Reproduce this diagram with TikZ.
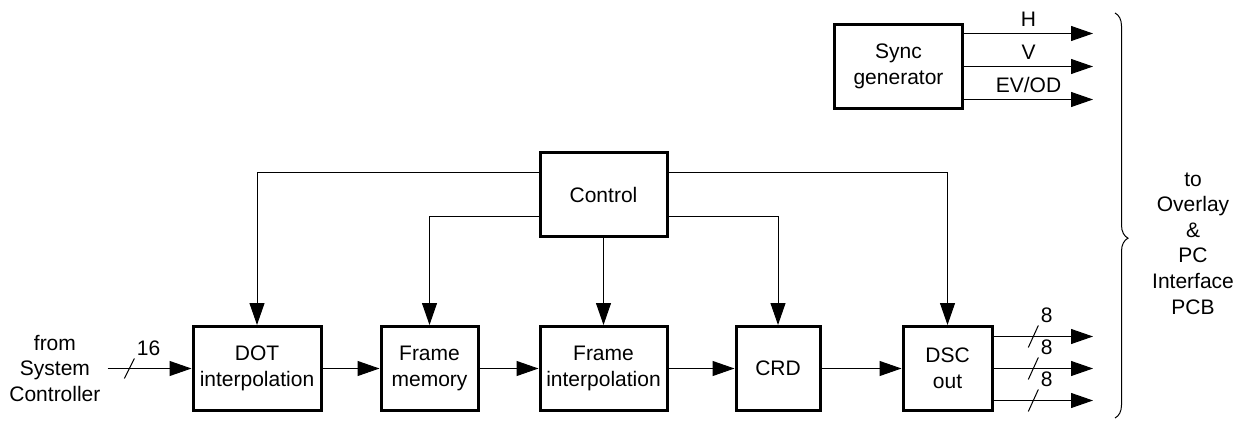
\documentclass[tikz,border=0pt]{standalone}
\usepackage{fontspec}
\setmainfont{Liberation Sans}
\usetikzlibrary{positioning, arrows.meta, decorations.pathreplacing}

\begin{document}
\begin{tikzpicture}[
    x=0.5pt, y=-0.5pt,
    every node/.style={font=\fontsize{10.5}{12.8}\selectfont, align=center},
    block/.style={rectangle, draw, line width=1.5pt, minimum height=42pt, inner sep=2pt},
    wide/.style={block, minimum width=64pt},
    arrow/.style={-{Triangle[length=11pt, width=7.5pt]}, line width=0.5pt},
    wire/.style={line width=0.5pt},
    buslabel/.style={anchor=south west, inner sep=1pt},
]
\useasboundingbox (0,0) rectangle (1240,422);

% Processing chain
\node[wide] (dot) at (257,368.5) {DOT\\interpolation};
\node[block, minimum width=48.5pt, right=28.5pt of dot] (mem) {Frame\\memory};
\node[wide, minimum width=63.5pt, right=29.5pt of mem] (interp) {Frame\\interpolation};
\node[block, minimum width=42pt, right=33pt of interp] (crd) {CRD};
\node[block, minimum width=44.5pt, right=40pt of crd] (dsc) {DSC\\out};

% Control and sync
\node[wide, minimum width=63.5pt, above=43.5pt of interp] (ctrl) {Control};
\node[wide] (sync) at (898.5,66.5) {Sync\\generator};

% Source and destination
\node[left=42pt of dot] (src) {from\\System\\Controller};
\node (dest) at (1193,243.5) {to\\Overlay\\\&\\PC\\Interface\\PCB};
\coordinate (outx) at (1093,0);

% Input bus
\draw[arrow] (src) -- (dot) coordinate[pos=0.26] (bin);
\draw[wire] (bin) ++(-2.5pt,-5pt) -- ++(5pt,10pt) node[buslabel] {16};

% Chain arrows
\draw[arrow] (dot) -- (mem);
\draw[arrow] (mem) -- (interp);
\draw[arrow] (interp) -- (crd);
\draw[arrow] (crd) -- (dsc);

% Control lines
\draw[arrow] ([yshift=11pt]ctrl.west) -| (dot.north);
\draw[arrow] ([yshift=-11pt]ctrl.west) -| (mem.north);
\draw[arrow] (ctrl) -- (interp);
\draw[arrow] ([yshift=-11pt]ctrl.east) -| (crd.north);
\draw[arrow] ([yshift=11pt]ctrl.east) -| (dsc.north);

% Sync outputs
\foreach \dy/\lbl in {16.5/H, 0/V, -16.5/{EV/OD}} {
    \draw[arrow] ([yshift=\dy pt]sync.east) -- ([yshift=\dy pt]sync.east -| outx)
        node[midway, above] {\lbl};
}

% Video outputs
\foreach \dy in {16, 0, -16} {
    \draw[arrow] ([yshift=\dy pt]dsc.east) -- ([yshift=\dy pt]dsc.east -| outx)
        coordinate[pos=0.4] (bout);
    \draw[wire] (bout) ++(-2.5pt,-5.5pt) -- ++(5pt,11pt) node[buslabel] {8};
}

% Brace
\draw[wire, decorate, decoration={brace, amplitude=6.5pt, aspect=0.556}]
    (1115,13) -- (1115,418);

\end{tikzpicture}
\end{document}
